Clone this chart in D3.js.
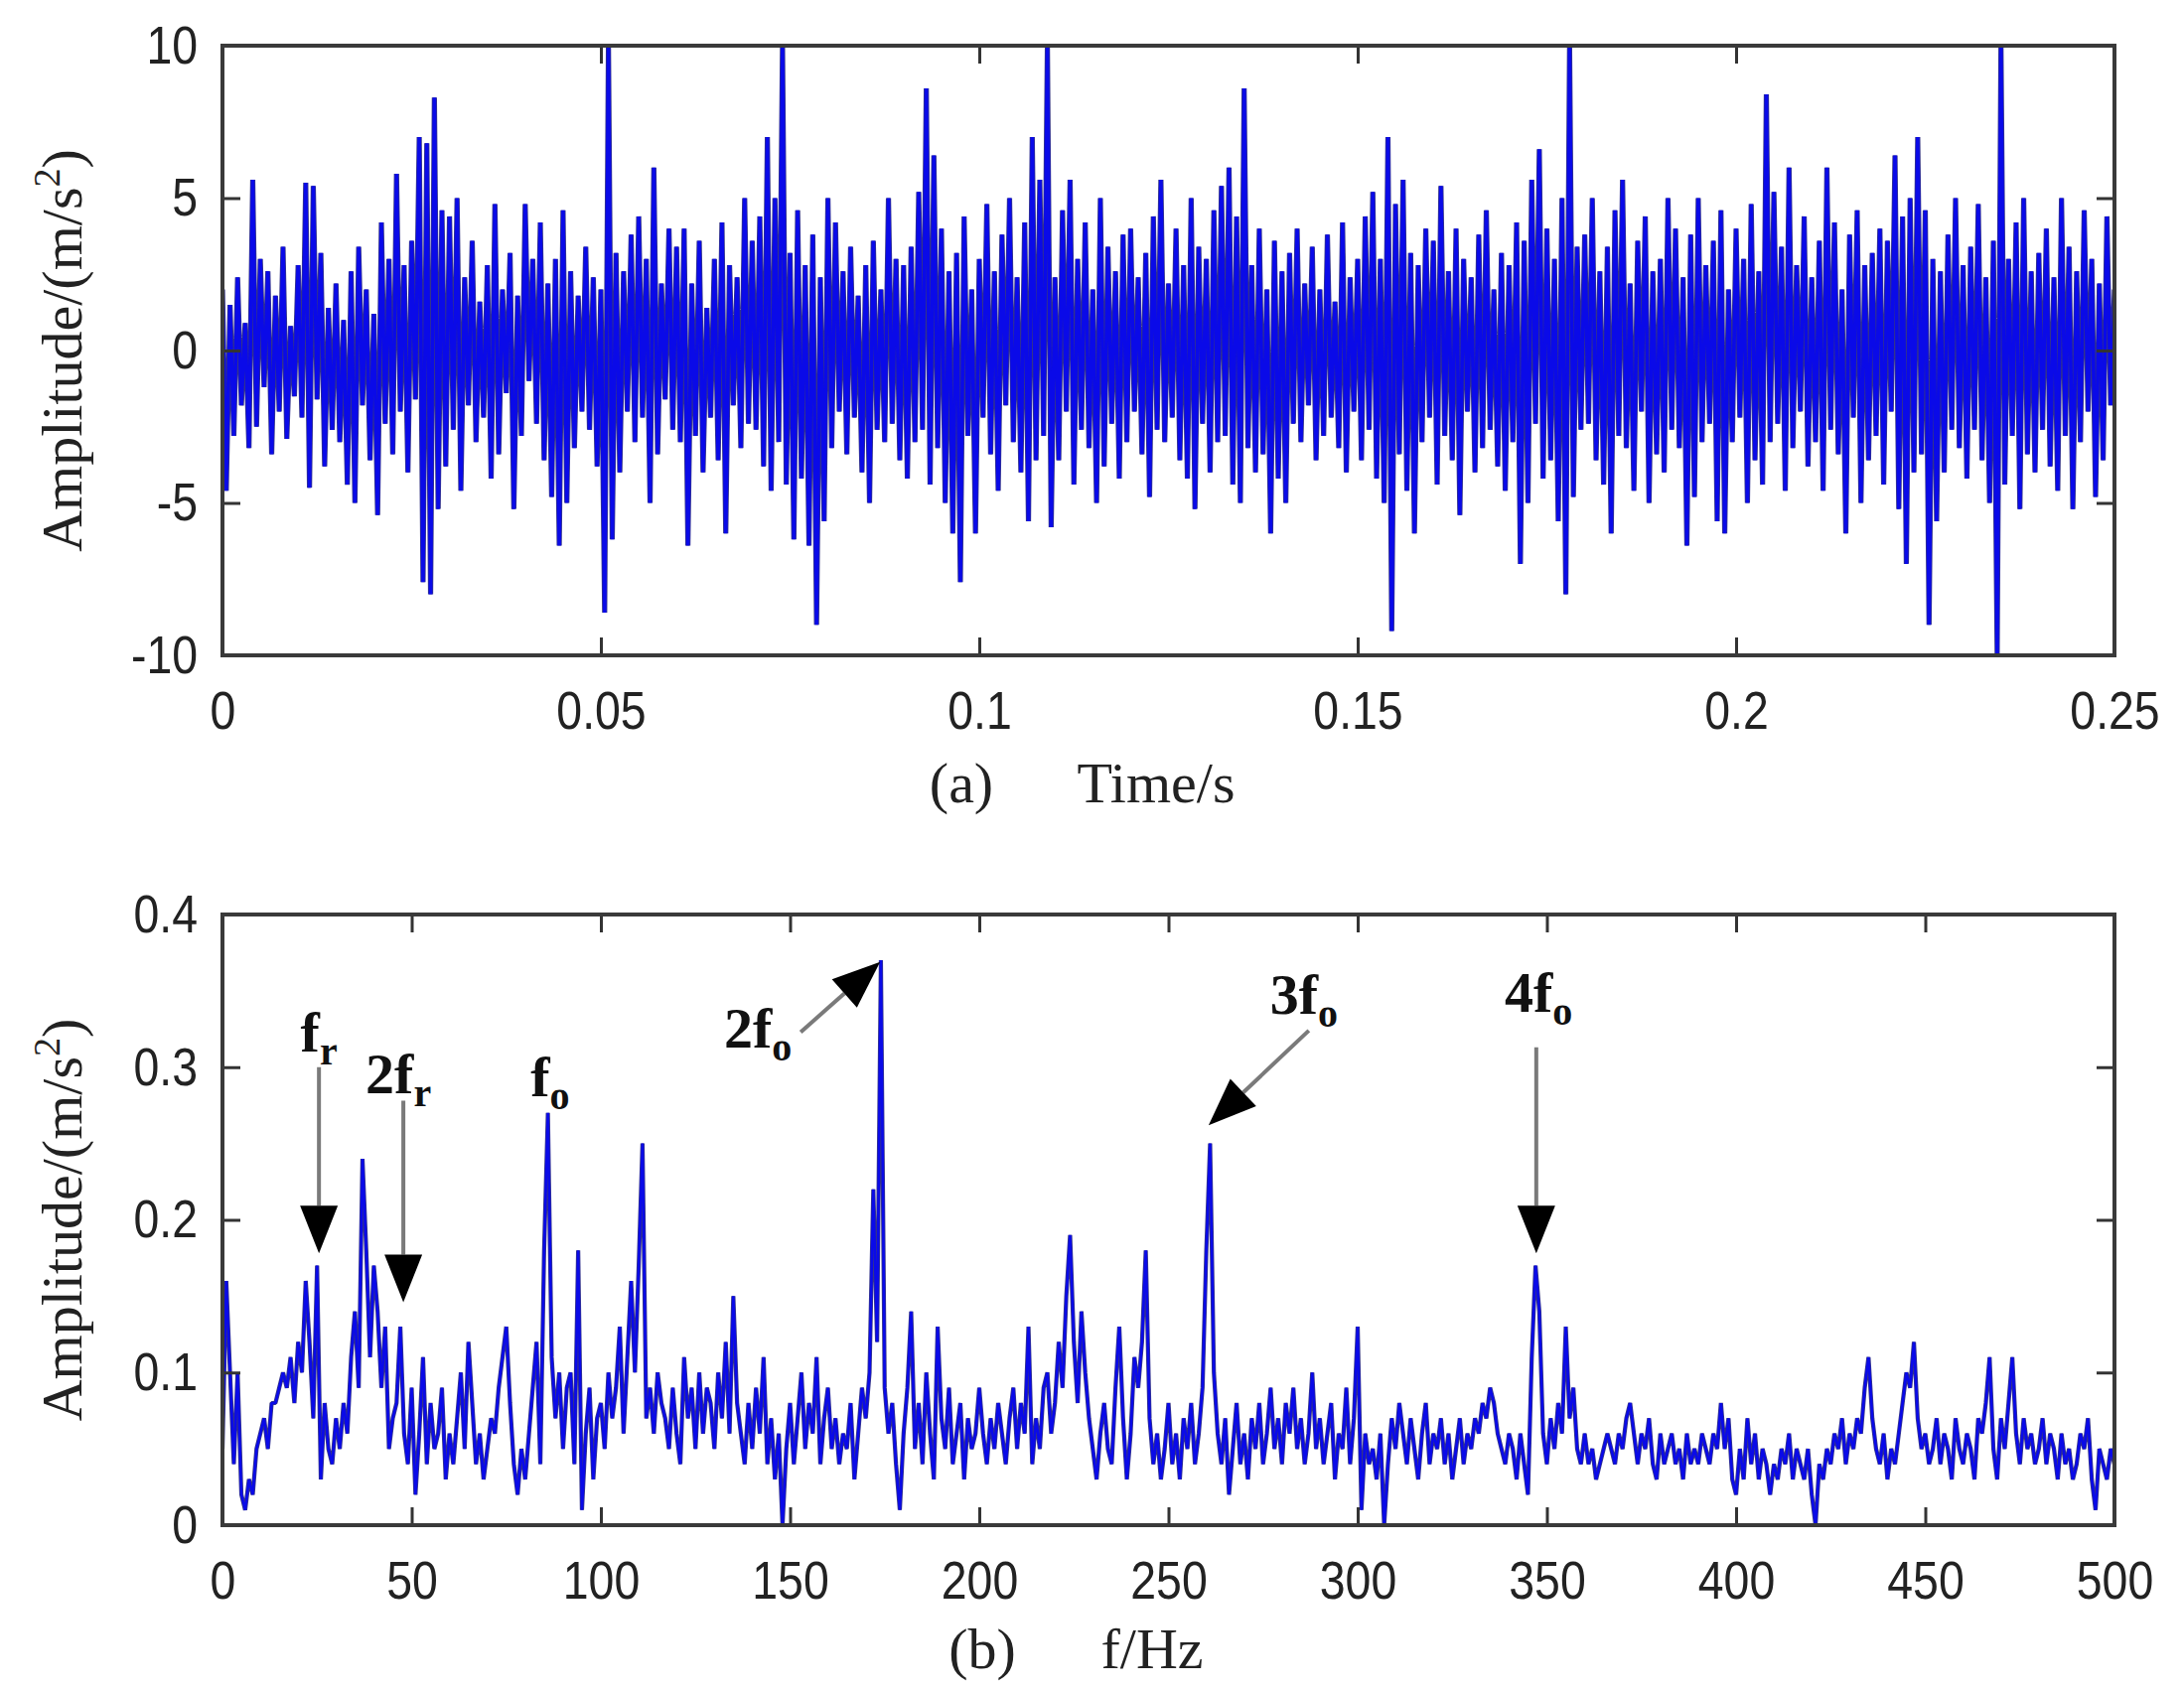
<!DOCTYPE html>
<html>
<head>
<meta charset="utf-8">
<script src="https://cdn.jsdelivr.net/npm/d3@7"></script>
<style>
  body { margin: 0; background: #fff; }
</style>
</head>
<body>
<div id="chart"></div>
<script>

// time signal, one value every 0.5 ms (m/s^2)
var timeStep = 0.0005;
var accel = [
  2.0,-4.6,1.5,-2.8,2.4,-1.8,0.9,-3.2,5.6,-2.5,3.0,-1.2,2.6,-3.4,1.8,-2.0,3.4,-2.9,0.8,-1.5,
  2.8,-2.2,5.5,-4.5,5.4,-1.6,3.2,-3.8,1.4,-2.6,2.2,-3.0,1.0,-4.4,2.6,-5.0,3.4,-1.8,2.0,-3.6,
  1.2,-5.4,4.2,-2.4,3.0,-3.4,5.8,-2.0,2.8,-4.0,3.6,-1.6,7.0,-7.6,6.8,-8.0,8.3,-5.2,4.6,-3.8,
  4.4,-2.6,5.0,-4.6,2.4,-1.8,3.6,-3.0,1.6,-2.2,2.8,-4.2,4.8,-3.4,2.0,-1.4,3.2,-5.2,1.8,-2.8,
  4.8,-1.0,3.0,-2.4,4.2,-3.6,2.2,-4.8,3.0,-6.4,4.6,-5.0,2.6,-3.2,1.8,-2.0,3.4,-2.6,2.4,-3.8,
  2.0,-8.6,10,-6.2,3.2,-4.0,2.6,-2.0,3.8,-3.0,4.4,-2.2,3.0,-5.0,6.0,-3.4,2.2,-1.6,4.0,-2.6,
  3.4,-3.0,4.0,-6.4,2.2,-2.8,3.6,-4.0,1.4,-2.2,3.0,-3.6,4.2,-6.0,2.8,-1.8,2.4,-3.2,5.0,-2.4,
  3.6,-2.6,4.4,-3.8,7.0,-4.6,5.0,-3.0,10,-4.4,3.2,-6.2,4.6,-4.2,2.8,-6.4,3.8,-9.0,2.4,-5.6,
  5.0,-3.2,4.2,-2.0,2.6,-3.4,3.4,-2.2,1.8,-4.0,2.8,-5.0,3.6,-2.6,2.0,-3.0,5.0,-2.4,3.0,-3.6,
  2.8,-4.2,3.4,-3.0,5.2,-2.6,8.6,-4.4,6.4,-3.2,4.0,-5.0,2.6,-6.0,3.2,-7.6,4.4,-2.8,2.0,-6.0,
  3.0,-2.2,4.8,-3.4,2.6,-4.6,3.8,-1.8,5.0,-3.0,2.4,-4.0,4.2,-5.6,7.0,-3.6,5.6,-2.8,10,-5.8,
  2.4,-3.6,4.6,-2.0,5.6,-4.4,3.0,-2.6,4.2,-3.2,2.0,-5.0,5.0,-3.8,3.4,-2.4,2.6,-4.2,3.8,-3.0,
  4.0,-2.0,2.4,-3.4,3.2,-4.8,4.4,-2.6,5.6,-3.0,2.2,-2.2,4.0,-3.6,2.8,-4.2,5.0,-5.2,3.4,-2.4,
  3.0,-4.0,4.6,-3.0,5.4,-2.8,6.0,-4.4,4.4,-5.0,8.6,-3.2,2.8,-4.0,4.0,-3.4,2.0,-6.0,3.6,-4.2,
  2.6,-5.0,3.2,-2.4,4.0,-3.0,2.2,-1.8,3.4,-3.6,2.0,-2.8,3.8,-2.2,1.6,-3.2,4.2,-4.0,2.4,-2.0,
  3.0,-3.6,4.4,-2.6,5.2,-4.2,3.0,-5.0,7.0,-9.2,4.8,-3.4,5.6,-4.6,3.2,-6.0,2.8,-3.0,4.0,-2.2,
  3.6,-4.4,5.4,-2.8,2.6,-3.6,4.0,-5.4,3.0,-2.0,2.4,-4.0,3.8,-3.2,4.6,-2.6,2.0,-3.8,3.2,-4.6,
  2.8,-3.0,4.2,-7.0,3.6,-5.0,5.6,-2.4,6.6,-4.2,4.0,-3.6,3.0,-5.6,5.0,-8.0,10,-4.8,3.4,-2.6,
  3.8,-2.4,5.0,-3.6,2.6,-4.4,3.4,-6.0,4.6,-2.8,5.6,-3.2,2.2,-4.6,3.6,-2.0,4.4,-5.0,2.6,-3.4,
  3.0,-4.0,5.0,-2.6,4.0,-3.2,2.4,-6.4,3.8,-4.8,5.0,-3.0,2.8,-2.4,3.6,-5.6,4.6,-6.0,2.0,-3.0,
  4.0,-2.2,3.0,-5.0,4.8,-3.6,2.6,-4.4,8.4,-3.0,5.2,-2.4,3.4,-4.6,6.0,-3.2,2.8,-2.0,4.4,-3.8,
  2.4,-3.0,3.6,-4.6,6.0,-2.6,4.2,-3.4,2.0,-6.0,3.8,-2.2,4.6,-5.0,2.8,-3.6,3.2,-2.8,4.0,-4.4,
  3.6,-2.0,6.4,-5.2,4.4,-7.0,5.0,-4.0,7.0,-3.4,4.6,-9.0,3.0,-5.6,2.6,-4.0,3.8,-2.6,5.0,-3.2,
  2.8,-4.2,3.4,-2.6,4.8,-3.6,2.4,-5.0,3.6,-10,10,-4.4,3.0,-2.8,4.2,-5.2,5.0,-3.4,2.6,-4.0,
  3.2,-2.6,4.0,-3.8,2.4,-4.6,5.0,-2.8,3.4,-5.2,2.6,-3.0,4.6,-2.0,3.0,-4.8,2.2,-3.6,4.4,-1.8,
  2.0
];

// amplitude spectrum, one value every 1 Hz (m/s^2)
var freqStep = 1;
var spectrum = [
  0.05,0.16,0.10,0.04,0.10,0.02,0.01,0.03,0.02,0.05,
  0.06,0.07,0.05,0.08,0.08,0.09,0.10,0.09,0.11,0.08,
  0.12,0.10,0.16,0.12,0.07,0.17,0.03,0.08,0.05,0.04,
  0.07,0.05,0.08,0.06,0.11,0.14,0.09,0.24,0.18,0.11,
  0.17,0.14,0.09,0.13,0.05,0.07,0.08,0.13,0.06,0.04,
  0.09,0.02,0.06,0.11,0.04,0.08,0.05,0.06,0.09,0.03,
  0.06,0.04,0.07,0.10,0.05,0.12,0.08,0.04,0.06,0.03,
  0.05,0.07,0.06,0.09,0.11,0.13,0.08,0.04,0.02,0.05,
  0.03,0.06,0.09,0.12,0.04,0.18,0.27,0.11,0.07,0.10,
  0.05,0.09,0.10,0.04,0.18,0.01,0.06,0.09,0.03,0.07,
  0.08,0.05,0.10,0.07,0.09,0.13,0.06,0.11,0.16,0.10,
  0.17,0.25,0.07,0.09,0.06,0.10,0.08,0.07,0.05,0.09,
  0.06,0.04,0.11,0.07,0.09,0.05,0.10,0.06,0.09,0.08,
  0.05,0.10,0.07,0.12,0.06,0.15,0.08,0.06,0.04,0.08,
  0.05,0.09,0.06,0.11,0.04,0.07,0.03,0.06,0.00,0.05,
  0.08,0.04,0.07,0.10,0.05,0.08,0.06,0.11,0.04,0.07,
  0.09,0.05,0.07,0.04,0.06,0.05,0.08,0.03,0.06,0.09,
  0.07,0.10,0.22,0.12,0.37,0.09,0.06,0.08,0.04,0.01,
  0.06,0.09,0.14,0.05,0.08,0.04,0.10,0.06,0.03,0.13,
  0.07,0.05,0.09,0.04,0.06,0.08,0.03,0.07,0.05,0.06,
  0.09,0.06,0.04,0.07,0.05,0.08,0.06,0.04,0.07,0.09,
  0.05,0.08,0.06,0.13,0.04,0.07,0.05,0.09,0.10,0.06,
  0.08,0.12,0.09,0.15,0.19,0.12,0.08,0.14,0.10,0.07,
  0.05,0.03,0.06,0.08,0.05,0.04,0.09,0.13,0.07,0.03,
  0.06,0.11,0.09,0.12,0.18,0.07,0.04,0.06,0.03,0.05,
  0.08,0.04,0.06,0.03,0.07,0.05,0.08,0.04,0.06,0.09,
  0.18,0.25,0.10,0.06,0.04,0.07,0.02,0.05,0.08,0.04,
  0.06,0.03,0.07,0.05,0.08,0.04,0.06,0.09,0.05,0.07,
  0.04,0.08,0.06,0.09,0.05,0.07,0.04,0.06,0.10,0.05,
  0.07,0.04,0.06,0.08,0.03,0.06,0.05,0.09,0.04,0.07,
  0.13,0.01,0.06,0.04,0.05,0.03,0.06,0.00,0.04,0.07,
  0.05,0.08,0.06,0.04,0.07,0.05,0.03,0.06,0.08,0.04,
  0.06,0.05,0.07,0.04,0.06,0.03,0.05,0.07,0.04,0.06,
  0.05,0.07,0.06,0.08,0.07,0.09,0.08,0.06,0.05,0.04,
  0.06,0.05,0.03,0.06,0.04,0.02,0.11,0.17,0.14,0.06,
  0.04,0.07,0.05,0.08,0.06,0.13,0.07,0.09,0.05,0.04,
  0.06,0.04,0.05,0.03,0.04,0.05,0.06,0.05,0.04,0.06,
  0.05,0.07,0.08,0.06,0.04,0.06,0.05,0.07,0.04,0.03,
  0.06,0.04,0.05,0.06,0.04,0.05,0.03,0.06,0.04,0.05,
  0.04,0.06,0.05,0.04,0.06,0.05,0.08,0.05,0.07,0.03,
  0.02,0.05,0.03,0.07,0.04,0.06,0.03,0.05,0.04,0.02,
  0.04,0.03,0.05,0.04,0.06,0.03,0.05,0.04,0.03,0.05,
  0.02,0.00,0.04,0.03,0.05,0.04,0.06,0.05,0.07,0.04,
  0.06,0.05,0.07,0.06,0.09,0.11,0.07,0.05,0.04,0.06,
  0.03,0.05,0.04,0.06,0.08,0.10,0.09,0.12,0.07,0.05,
  0.06,0.04,0.05,0.07,0.04,0.06,0.05,0.03,0.07,0.05,
  0.04,0.06,0.05,0.03,0.07,0.06,0.08,0.11,0.05,0.03,
  0.07,0.05,0.08,0.11,0.06,0.04,0.07,0.05,0.06,0.04,
  0.05,0.07,0.04,0.06,0.05,0.03,0.06,0.04,0.05,0.03,
  0.04,0.06,0.05,0.07,0.03,0.01,0.05,0.04,0.03,0.05,
  0.04
];

// ticks
var timeTicks = [0, 0.05, 0.1, 0.15, 0.2, 0.25];
var timeTickLabels = ["0", "0.05", "0.1", "0.15", "0.2", "0.25"];
var accelTicks = [-10, -5, 0, 5, 10];
var accelTickLabels = ["-10", "-5", "0", "5", "10"];
var freqTicks = [0, 50, 100, 150, 200, 250, 300, 350, 400, 450, 500];
var freqTickLabels = ["0", "50", "100", "150", "200", "250", "300", "350", "400", "450", "500"];
var specTicks = [0, 0.1, 0.2, 0.3, 0.4];
var specTickLabels = ["0", "0.1", "0.2", "0.3", "0.4"];

// peak labels: text anchor (Hz, amplitude), arrow tail and tip
var peakNames = [["", "r"], ["2", "r"], ["", "o"], ["2", "o"], ["3", "o"], ["4", "o"]];
var peakText = [[25.5, 0.31], [46.5, 0.283], [86.6, 0.281], [141.5, 0.313], [285.8, 0.335], [347.8, 0.336]];
var peakArrowFrom = [[25.5, 0.300], [47.8, 0.278], null, [152.8, 0.323], [287.1, 0.324], [347.2, 0.313]];
var peakArrowTo = [[25.5, 0.178], [47.8, 0.146], null, [173.8, 0.369], [260.6, 0.262], [347.2, 0.178]];

var W = 2199, H = 1702;
var left = 224, right = 2129;

var svg = d3.select("#chart")
  .append("svg")
    .attr("width", W)
    .attr("height", H);

svg.append("rect").attr("width", W).attr("height", H).attr("fill", "#fff");

var tickFont = "'Liberation Sans', Arial, sans-serif";
var serif = "'Liberation Serif', 'Times New Roman', serif";

function drawPanel(top, bottom, xDom, xTicks, xLabels, yDom, yTicks, yLabels, values, step, id, lw) {
  var x = d3.scaleLinear().domain(xDom).range([left, right]);
  var y = d3.scaleLinear().domain(yDom).range([bottom, top]);

  svg.append("clipPath").attr("id", id)
    .append("rect")
      .attr("x", left).attr("y", top)
      .attr("width", right - left).attr("height", bottom - top);

  var line = d3.line()
    .x(function(d, i) { return x(i * step); })
    .y(function(d) { return y(d); });

  // signal: dark outline under a bright blue core
  svg.append("path")
    .datum(values)
    .attr("clip-path", "url(#" + id + ")")
    .attr("fill", "none")
    .attr("stroke", "#34348a")
    .attr("stroke-width", lw + 1.6)
    .attr("stroke-linejoin", "bevel")
    .attr("d", line);
  svg.append("path")
    .datum(values)
    .attr("clip-path", "url(#" + id + ")")
    .attr("fill", "none")
    .attr("stroke", "#0a0ae8")
    .attr("stroke-width", lw)
    .attr("stroke-linejoin", "bevel")
    .attr("d", line);

  var tickLen = 18;
  var fmtX = function(d) { return xLabels[xTicks.indexOf(d)]; };
  var fmtY = function(d) { return yLabels[yTicks.indexOf(d)]; };

  // bottom axis with labels
  var gx = svg.append("g")
    .attr("transform", "translate(0," + bottom + ")")
    .call(d3.axisBottom(x).tickValues(xTicks).tickFormat(fmtX)
      .tickSizeInner(-tickLen).tickSizeOuter(0).tickPadding(36));
  // left axis with labels
  var gy = svg.append("g")
    .attr("transform", "translate(" + left + ",0)")
    .call(d3.axisLeft(y).tickValues(yTicks).tickFormat(fmtY)
      .tickSizeInner(-tickLen).tickSizeOuter(0).tickPadding(29));
  // top and right: ticks only
  var gt = svg.append("g")
    .attr("transform", "translate(0," + top + ")")
    .call(d3.axisTop(x).tickValues(xTicks).tickFormat("")
      .tickSizeInner(-tickLen).tickSizeOuter(0));
  var gr = svg.append("g")
    .attr("transform", "translate(" + right + ",0)")
    .call(d3.axisRight(y).tickValues(yTicks).tickFormat("")
      .tickSizeInner(-tickLen).tickSizeOuter(0));

  [gx, gy, gt, gr].forEach(function(g) {
    g.select(".domain").remove();
    g.selectAll("line").attr("stroke", "#333").attr("stroke-width", 3);
    g.selectAll("text")
      .attr("font-family", tickFont)
      .attr("font-size", 54)
      .attr("fill", "#222")
      .attr("transform", "scale(0.86,1)");
  });

  // box
  svg.append("rect")
    .attr("x", left).attr("y", top)
    .attr("width", right - left).attr("height", bottom - top)
    .attr("fill", "none")
    .attr("stroke", "#3a3a3a")
    .attr("stroke-width", 4);

  // y label
  var yl = svg.append("text")
    .attr("transform", "translate(82," + ((top + bottom) / 2) + ") rotate(-90)")
    .attr("text-anchor", "middle")
    .attr("font-family", serif)
    .attr("font-size", 58)
    .attr("fill", "#222");
  yl.append("tspan").text("Amplitude/(m/s");
  yl.append("tspan").attr("font-size", 38).attr("dy", -22).text("2");
  yl.append("tspan").attr("dy", 22).text(")");

  return {x: x, y: y};
}

var top1 = 46, bottom1 = 660;
var top2 = 921, bottom2 = 1536;

drawPanel(top1, bottom1, [0, 0.25], timeTicks, timeTickLabels,
  [-10, 10], accelTicks, accelTickLabels, accel, timeStep, "clipA", 3.6);

var sp = drawPanel(top2, bottom2, [0, 500], freqTicks, freqTickLabels,
  [0, 0.4], specTicks, specTickLabels, spectrum, freqStep, "clipB", 2.6);

// panel captions
function caption(yPos, tag, tagX, name, nameX) {
  svg.append("text")
    .attr("x", tagX).attr("y", yPos)
    .attr("text-anchor", "middle")
    .attr("font-family", serif).attr("font-size", 58).attr("fill", "#222")
    .text(tag);
  svg.append("text")
    .attr("x", nameX).attr("y", yPos)
    .attr("text-anchor", "middle")
    .attr("font-family", serif).attr("font-size", 58).attr("fill", "#222")
    .text(name);
}
caption(808, "(a)", 968, "Time/s", 1164);
caption(1680, "(b)", 989, "f/Hz", 1160);

// peak annotations
peakNames.forEach(function(n, i) {
  var t = svg.append("text")
    .attr("x", sp.x(peakText[i][0]))
    .attr("y", sp.y(peakText[i][1]))
    .attr("text-anchor", "middle")
    .attr("font-family", serif)
    .attr("font-weight", "bold")
    .attr("font-size", 58)
    .attr("fill", "#111");
  t.append("tspan").text(n[0] + "f");
  t.append("tspan").attr("font-size", 40).attr("dy", 13).text(n[1]);

  if (!peakArrowFrom[i]) return;
  var x0 = sp.x(peakArrowFrom[i][0]), y0 = sp.y(peakArrowFrom[i][1]);
  var x1 = sp.x(peakArrowTo[i][0]), y1 = sp.y(peakArrowTo[i][1]);
  var dx = x1 - x0, dy = y1 - y0, len = Math.sqrt(dx * dx + dy * dy);
  var ux = dx / len, uy = dy / len;
  var headLen = 48, headHalf = 19;
  var bx = x1 - ux * headLen, by = y1 - uy * headLen;
  svg.append("line")
    .attr("x1", x0).attr("y1", y0)
    .attr("x2", bx).attr("y2", by)
    .attr("stroke", "#7a7a7a")
    .attr("stroke-width", 4);
  svg.append("polygon")
    .attr("points", [
      [x1, y1],
      [bx - uy * headHalf, by + ux * headHalf],
      [bx + uy * headHalf, by - ux * headHalf]
    ].map(function(p) { return p.join(","); }).join(" "))
    .attr("fill", "#000");
});

</script>
</body>
</html>
